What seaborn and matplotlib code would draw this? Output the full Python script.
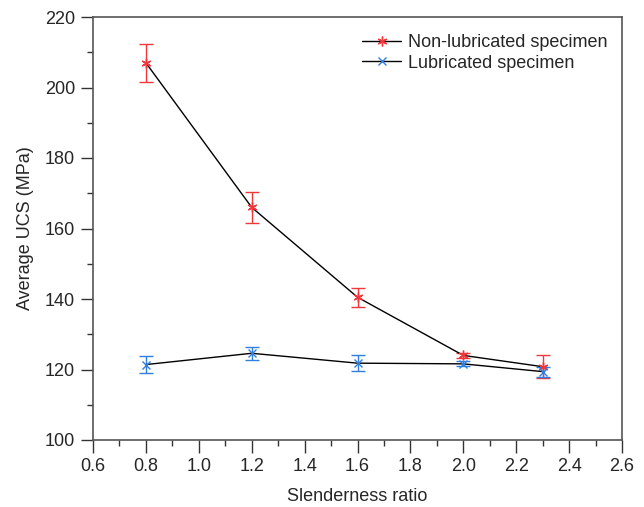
import matplotlib
matplotlib.use("Agg")
import matplotlib.pyplot as plt
import seaborn as sns
import pandas as pd
from matplotlib.ticker import MultipleLocator

sns.set_style("ticks")
plt.rcParams['font.family'] = ['Liberation Sans', 'DejaVu Sans']

slenderness = [0.8, 1.2, 1.6, 2.0, 2.3]
non_lub = [207.0, 166.0, 140.5, 124.0, 120.8]
non_lub_err = [5.4, 4.4, 2.7, 0.8, 3.2]
lub = [121.4, 124.6, 121.8, 121.6, 119.4]
lub_err = [2.5, 1.9, 2.2, 0.7, 1.4]

df_n = pd.DataFrame({"x": slenderness, "y": non_lub})
df_l = pd.DataFrame({"x": slenderness, "y": lub})

fig = plt.figure(figsize=(6.44, 5.07), dpi=100)
ax = fig.add_axes([93/644, 1-440/507, (622-93)/644, (440-17)/507])

red = "#f0383c"
blue = "#2f7fe0"

ax.errorbar(slenderness, non_lub, yerr=non_lub_err, fmt='none', ecolor=red,
            elinewidth=1.0, capsize=5, capthick=1.0, zorder=2)
ax.errorbar(slenderness, lub, yerr=lub_err, fmt='none', ecolor=blue,
            elinewidth=1.0, capsize=5, capthick=1.0, zorder=2)

sns.lineplot(data=df_n, x="x", y="y", ax=ax, color="black", linewidth=1.0,
             marker=(6, 2, 0), markersize=7, markeredgecolor=red,
             markerfacecolor=red, markeredgewidth=1.0,
             label="Non-lubricated specimen", zorder=3)
sns.lineplot(data=df_l, x="x", y="y", ax=ax, color="black", linewidth=1.0,
             marker="x", markersize=6, markeredgecolor=blue,
             markerfacecolor=blue, markeredgewidth=1.0,
             label="Lubricated specimen", zorder=3)

ax.set_xlim(0.6, 2.6)
ax.set_ylim(100, 220)
ax.xaxis.set_major_locator(MultipleLocator(0.2))
ax.xaxis.set_minor_locator(MultipleLocator(0.1))
ax.yaxis.set_major_locator(MultipleLocator(20))
ax.yaxis.set_minor_locator(MultipleLocator(10))
ax.set_xticklabels([f"{v:.1f}" for v in ax.get_xticks()])

for s in ax.spines.values():
    s.set_color("#555555")
    s.set_linewidth(1.2)
ax.tick_params(which="major", direction="out", length=9, width=1.0,
               color="#333333", labelsize=13, top=False, right=False, pad=4)
ax.tick_params(which="minor", direction="out", length=4.5, width=1.0,
               color="#333333", top=False, right=False)

ax.set_xlabel("Slenderness ratio", fontsize=13, labelpad=9)
ax.set_ylabel("Average UCS (MPa)", fontsize=13, labelpad=8)

leg = ax.legend(loc="upper left", frameon=False, fontsize=13,
                handlelength=2.2, handletextpad=0.35, labelspacing=0.2,
                borderpad=0, borderaxespad=0,
                bbox_to_anchor=(0.508, 0.96))

fig.savefig("out.png", dpi=100)
